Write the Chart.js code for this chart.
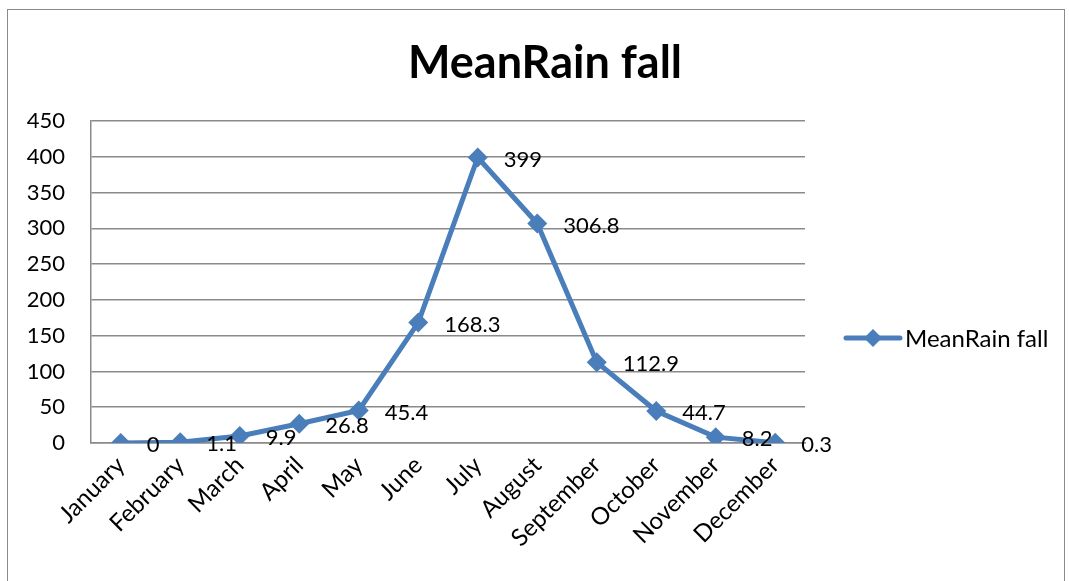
<!DOCTYPE html>
<html>
<head>
<meta charset="utf-8">
<script src="https://cdn.jsdelivr.net/npm/chart.js@4"></script>
<style>
    body { margin: 0; background: #fff; }
    .frame { position: absolute; left: 7px; top: 9px; width: 1056px; height: 620px; border: 1.5px solid #8a8a8a; border-bottom: none; }
    .wrap { position: absolute; left: 0; top: 0; width: 1069px; height: 581px; }
</style>
</head>
<body>
<div class="frame"></div>
<div class="wrap"><canvas id="rainChart"></canvas></div>
<script>
const months = ['January', 'February', 'March', 'April', 'May', 'June', 'July', 'August', 'September', 'October', 'November', 'December'];
const meanRain = [0, 1.1, 9.9, 26.8, 45.4, 168.3, 399, 306.8, 112.9, 44.7, 8.2, 0.3];
const yTicks = [0, 50, 100, 150, 200, 250, 300, 350, 400, 450];
const seriesName = 'MeanRain fall';

const blue = '#4a7ebb';
const grey = '#8a8a8a';
const font = 'Lato';

// title (centred on the whole frame), value labels and the legend
const extras = {
    id: 'extras',
    afterDatasetsDraw(chart) {
        const ctx = chart.ctx;
        const meta = chart.getDatasetMeta(0);
        const area = chart.chartArea;
        ctx.save();

        ctx.fillStyle = '#000';
        ctx.font = 'bold 45px ' + font;
        ctx.textAlign = 'center';
        ctx.textBaseline = 'alphabetic';
        ctx.fillText(seriesName, 545, 78);

        ctx.font = '22px ' + font;
        ctx.textAlign = 'left';
        ctx.textBaseline = 'middle';
        meta.data.forEach((pt, i) => {
            ctx.fillText(String(meanRain[i]), pt.x + 26, pt.y + 2);
        });

        // legend
        const lx = area.right + 41;
        const ly = 338;
        ctx.strokeStyle = blue;
        ctx.lineWidth = 5;
        ctx.lineCap = 'round';
        ctx.beginPath();
        ctx.moveTo(lx, ly);
        ctx.lineTo(lx + 54, ly);
        ctx.stroke();
        ctx.fillStyle = blue;
        ctx.beginPath();
        ctx.moveTo(lx + 27, ly - 9);
        ctx.lineTo(lx + 36, ly);
        ctx.lineTo(lx + 27, ly + 9);
        ctx.lineTo(lx + 18, ly);
        ctx.closePath();
        ctx.fill();
        ctx.fillStyle = '#000';
        ctx.font = '24px ' + font;
        ctx.fillText(seriesName, lx + 59, ly + 1);
        ctx.restore();
    }
};

Chart.defaults.color = '#000';
Chart.defaults.font.family = font;

const ctx = document.getElementById('rainChart').getContext('2d');
const rainChart = new Chart(ctx, {
    type: 'line',
    data: {
        labels: months,
        datasets: [{
            label: seriesName,
            data: meanRain,
            borderColor: blue,
            backgroundColor: blue,
            borderWidth: 5,
            pointStyle: 'rectRot',
            pointRadius: 10,
            pointHoverRadius: 10,
            pointBorderWidth: 0,
            tension: 0
        }]
    },
    options: {
        responsive: true,
        maintainAspectRatio: false,
        animation: false,
        layout: { padding: { left: 0, right: 264, top: 121, bottom: 0 } },
        plugins: {
            title: { display: false },
            legend: { display: false },
            tooltip: { enabled: false }
        },
        scales: {
            x: {
                offset: true,
                grid: { display: false, drawTicks: false },
                border: { color: grey, width: 1.5 },
                ticks: { minRotation: 45, maxRotation: 45, padding: 8, font: { size: 24 } },
                afterFit(scale) { scale.height = 138; }
            },
            y: {
                min: 0,
                max: 450,
                afterBuildTicks(scale) { scale.ticks = yTicks.map(v => ({ value: v })); },
                grid: { color: grey, lineWidth: 1.5, drawTicks: false },
                border: { color: grey, width: 1.5 },
                ticks: { padding: 26, font: { size: 22 } },
                afterFit(scale) { scale.width = 91; }
            }
        }
    },
    plugins: [extras]
});
</script>
</body>
</html>
